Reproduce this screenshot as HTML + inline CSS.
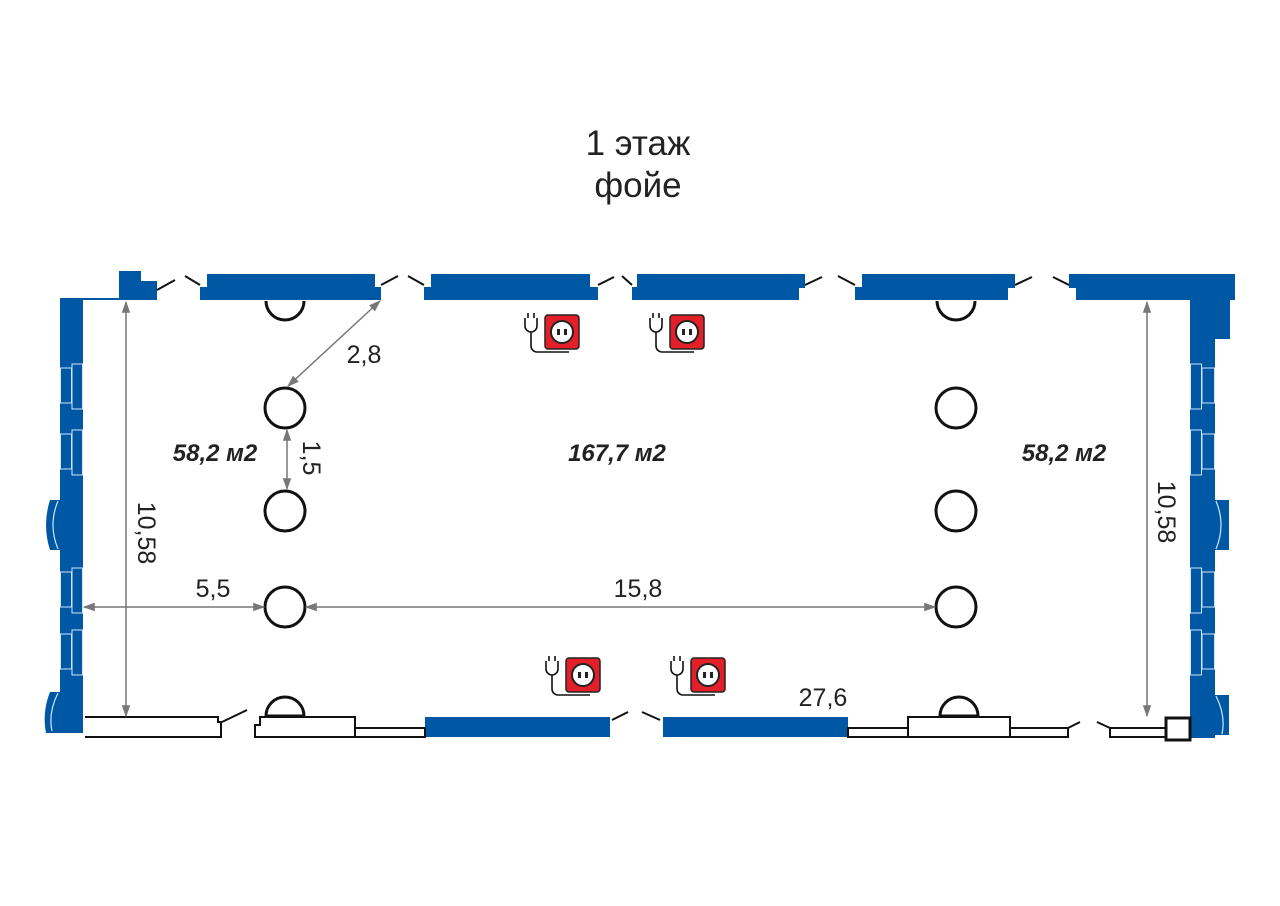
<!DOCTYPE html>
<html><head><meta charset="utf-8"><style>html,body{margin:0;padding:0;background:#fff}svg{display:block}text{font-family:"Liberation Sans",sans-serif}</style></head>
<body>
<svg width="1280" height="906" viewBox="0 0 1280 906" xmlns="http://www.w3.org/2000/svg">
<defs>
<marker id="ar" viewBox="0 0 10 10" refX="9" refY="5" markerWidth="8" markerHeight="8" orient="auto-start-reverse"><path d="M0,1.5 L10,5 L0,8.5 Z" fill="#777"/></marker>
<g id="sock">
<rect x="0" y="0" width="34" height="34" rx="3" fill="#e3202a" stroke="#222" stroke-width="1.5"/>
<circle cx="17" cy="17" r="11" fill="#fff" stroke="#222" stroke-width="2"/>
<rect x="12" y="14" width="3" height="6" fill="#222"/><rect x="19" y="14" width="3" height="6" fill="#222"/>
<path d="M-20,3 v8 a6,6 0 0 0 12,0 v-8 M-17,3 v-5 M-11,3 v-5 M-14,17 v14 a6,6 0 0 0 6,6 h32" fill="none" stroke="#111" stroke-width="1.6"/>
</g>
</defs>
<text x="638" y="155" font-size="35" text-anchor="middle" fill="#222">1 этаж</text>
<text x="638" y="197" font-size="35" text-anchor="middle" fill="#222">фойе</text>
<g fill="#0057a4">
<rect x="119" y="271" width="22" height="29"/><rect x="141" y="281" width="16" height="19"/>
<rect x="207" y="274" width="168" height="14"/><rect x="200" y="287" width="181" height="13"/>
<rect x="431" y="274" width="159" height="14"/><rect x="424" y="287" width="174" height="13"/>
<rect x="637" y="274" width="168" height="14"/><rect x="632" y="287" width="167" height="13"/>
<rect x="862" y="274" width="153" height="14"/><rect x="855" y="287" width="153" height="13"/>
<rect x="1069" y="274" width="166" height="14"/><rect x="1076" y="287" width="159" height="13"/>
<rect x="60" y="300" width="23" height="433"/>
<path d="M60,500 h-10 q-8,25 0,50 h10 Z"/><path d="M60,692 h-10 q-8,20 -4,41 h14 Z"/>
<rect x="1190" y="300" width="40" height="39"/><rect x="1190" y="300" width="25" height="438"/>
<path d="M1214,500 h15 v50 h-15 Z"/><path d="M1214,695 h15 v40 h-15 Z"/>
<rect x="425" y="717" width="185" height="20"/><rect x="663" y="717" width="185" height="20"/>
</g>
<path d="M1216,501 q10,24 0,48 M1216,696 q10,20 6,38" fill="none" stroke="#cfe6ff" stroke-width="1.2"/>
<path d="M58,501 q-10,24 0,48 M58,693 q-10,20 -6,38" fill="none" stroke="#cfe6ff" stroke-width="1.2"/>
<g fill="#0057a4" stroke="#cfe6ff" stroke-width="1">
<rect x="60.5" y="368" width="11" height="35"/><rect x="72" y="364" width="10.5" height="45"/>
<rect x="60.5" y="434" width="11" height="35"/><rect x="72" y="430" width="10.5" height="45"/>
<rect x="60.5" y="572" width="11" height="35"/><rect x="72" y="568" width="10.5" height="45"/>
<rect x="60.5" y="634" width="11" height="35"/><rect x="72" y="630" width="10.5" height="45"/>
<rect x="1202" y="368" width="12.5" height="35"/><rect x="1190.5" y="364" width="11" height="45"/>
<rect x="1202" y="434" width="12.5" height="35"/><rect x="1190.5" y="430" width="11" height="45"/>
<rect x="1202" y="572" width="12.5" height="35"/><rect x="1190.5" y="568" width="11" height="45"/>
<rect x="1202" y="634" width="12.5" height="35"/><rect x="1190.5" y="630" width="11" height="45"/>
</g>
<line x1="60" y1="299" x2="120" y2="299" stroke="#0057a4" stroke-width="2"/>
<g stroke="#111" stroke-width="2" fill="none">
<path d="M157,290 L175,280 M185,276 L200,285 M381,285 L398,276 M408,276 L424,285 M598,285 L614,277 M622,276 L632,285 M805,285 L822,277 M838,276 L855,285 M1015,285 L1032,277 M1053,277 L1069,285"/>
<path d="M85,717 H218 V722 H221 V737 H85" fill="#fff"/>
<path d="M222,722 L247,710 M612,720 L628,712 M642,712 L660,720 M1068,728 L1080,722 M1097,722 L1110,728"/>
<path d="M255,737 V725 H260 V717 H355 V737 Z" fill="#fff"/>
<rect x="355" y="728" width="70" height="9" fill="#fff"/>
<rect x="848" y="728" width="60" height="9" fill="#fff"/>
<rect x="908" y="717" width="102" height="20" fill="#fff"/>
<rect x="1010" y="728" width="58" height="9" fill="#fff"/>
<rect x="1110" y="728" width="57" height="9" fill="#fff"/>
<rect x="1166" y="718" width="24" height="22" fill="#fff" stroke-width="3"/>
</g>
<g stroke="#111" stroke-width="3" fill="#fff">
<circle cx="285" cy="408" r="20"/><circle cx="285" cy="511" r="20"/><circle cx="285" cy="607" r="20"/>
<circle cx="956" cy="408" r="20"/><circle cx="956" cy="511" r="20"/><circle cx="956" cy="607" r="20"/>
<path d="M266,301 a19,19 0 0 0 38,0"/><path d="M937,301 a19,19 0 0 0 38,0"/>
<path d="M266,716 a19,19 0 0 1 38,0 Z"/><path d="M940,716 a19,19 0 0 1 38,0 Z"/>
</g>
<g stroke="#777" stroke-width="1.5" marker-start="url(#ar)" marker-end="url(#ar)">
<line x1="126" y1="302" x2="126" y2="716"/>
<line x1="1147" y1="302" x2="1147" y2="716"/>
<line x1="84" y1="607" x2="264" y2="607"/>
<line x1="306" y1="607" x2="935" y2="607"/>
<line x1="380" y1="301" x2="288" y2="386"/>
<line x1="287" y1="430" x2="287" y2="489"/>
</g>
<g font-size="25" fill="#222">
<text x="364" y="363" text-anchor="middle">2,8</text>
<text x="213" y="597" text-anchor="middle">5,5</text>
<text x="638" y="597" text-anchor="middle">15,8</text>
<text x="823" y="706" text-anchor="middle">27,6</text>
<text transform="translate(138,533) rotate(90)" text-anchor="middle">10,58</text>
<text transform="translate(1158,512) rotate(90)" text-anchor="middle">10,58</text>
<text transform="translate(303,458) rotate(90)" text-anchor="middle">1,5</text>
</g>
<g font-size="24" font-weight="bold" font-style="italic" fill="#222" text-anchor="middle">
<text x="215" y="461">58,2 м2</text>
<text x="617" y="461">167,7 м2</text>
<text x="1064" y="461">58,2 м2</text>
</g>
<use href="#sock" x="545" y="315"/>
<use href="#sock" x="670" y="315"/>
<use href="#sock" x="566" y="658"/>
<use href="#sock" x="691" y="658"/>
</svg>
</body></html>
